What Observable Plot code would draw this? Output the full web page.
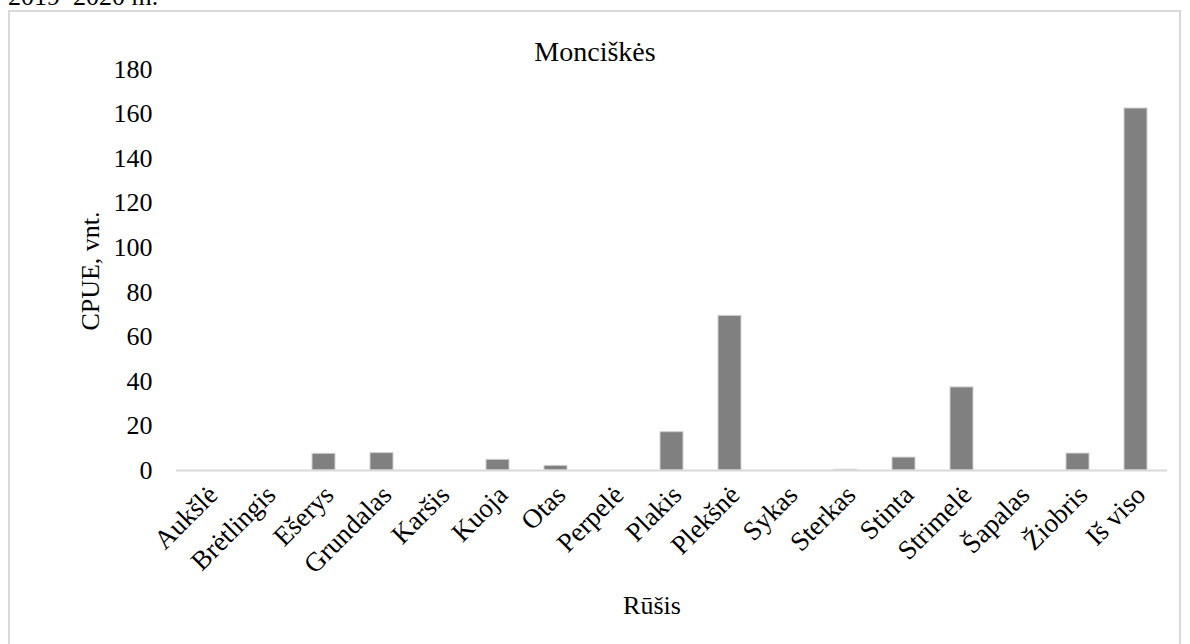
<!DOCTYPE html>
<html>
<head>
<meta charset="utf-8">
<script src="https://cdn.jsdelivr.net/npm/d3@7"></script>
<script src="https://cdn.jsdelivr.net/npm/@observablehq/plot@0.6"></script>
<style>
  html, body { margin: 0; padding: 0; background: #fff; }
  #wrap { position: relative; width: 1190px; height: 644px; overflow: hidden; }
  #wrap svg { position: absolute; left: 0; top: 0; }
  text { font-family: "Liberation Serif", "Times New Roman", serif; }
</style>
</head>
<body>
<div id="wrap"></div>
<script>
// ---- data ----
const species = ["Aukšlė", "Brėtlingis", "Ešerys", "Grundalas", "Karšis", "Kuoja", "Otas", "Perpelė", "Plakis", "Plekšnė", "Sykas", "Sterkas", "Stinta", "Strimelė", "Šapalas", "Žiobris", "Iš viso"];
const cpue = [0, 0, 7.5, 7.8, 0, 4.8, 2.1, 0, 17.2, 69.4, 0, 0.3, 5.8, 37.3, 0, 7.6, 162.5];
const yTicks = [0, 20, 40, 60, 80, 100, 120, 140, 160, 180];
const title = "Monciškės";
const yLabel = "CPUE, vnt.";
const xLabel = "Rūšis";
const header = "2019–2020 m.";

const data = species.map((s, i) => ({s, v: cpue[i]}));
const font = "'Liberation Serif', 'Times New Roman', serif";

const wrap = document.getElementById("wrap");

// frame + surrounding texts
const ns = "http://www.w3.org/2000/svg";
const deco = document.createElementNS(ns, "svg");
deco.setAttribute("width", 1190);
deco.setAttribute("height", 644);
deco.innerHTML = `
  <rect x="9" y="11" width="1171" height="700" fill="#fff" stroke="#d9d9d9" stroke-width="2"/>
  <text x="8" y="5" font-size="26" fill="#000">${header}</text>
  <text x="595" y="61" font-size="28" text-anchor="middle" fill="#000">${title}</text>
  <text x="652" y="614" font-size="26" text-anchor="middle" fill="#000">${xLabel}</text>
  <text transform="translate(99,271) rotate(-90)" font-size="26" text-anchor="middle" fill="#000">${yLabel}</text>
`;
wrap.appendChild(deco);

const chart = Plot.plot({
  width: 1190,
  height: 644,
  marginLeft: 176,
  marginRight: 23,
  marginTop: 69,
  marginBottom: 174,
  style: {fontFamily: font, fontSize: "26px", color: "#000", background: "transparent", overflow: "visible"},
  x: {type: "band", domain: species, paddingInner: 0.6, paddingOuter: 0.3, label: null},
  y: {domain: [0, 180], label: null},
  marks: [
    Plot.barY(data, {x: "s", y: "v", fill: "#808080", stroke: "#d0d0d0", strokeWidth: 1}),
    Plot.ruleY([0], {stroke: "#d9d9d9", strokeWidth: 2}),
    Plot.axisY({ticks: yTicks, tickSize: 0, tickPadding: 24, fontSize: 26, label: null}),
    Plot.axisX({tickSize: 0, tickRotate: -45, tickPadding: 20, dx: 5, fontSize: 27, label: null})
  ]
});
wrap.appendChild(chart);
</script>
</body>
</html>
